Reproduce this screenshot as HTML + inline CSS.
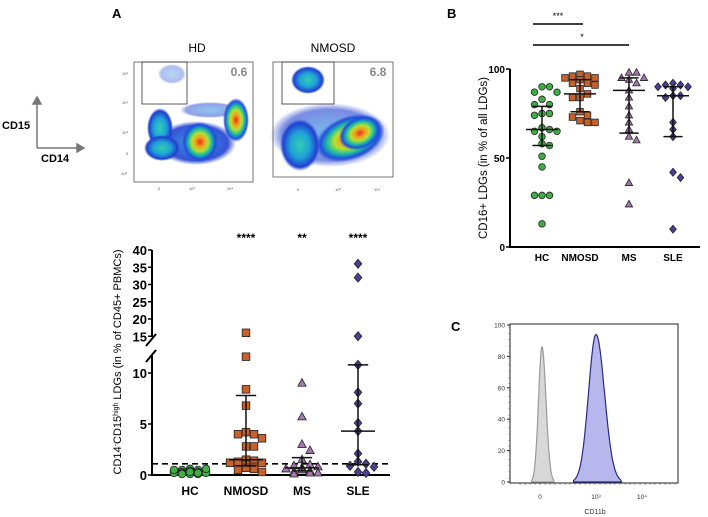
<!DOCTYPE html>
<html><head><meta charset="utf-8"><style>
body{margin:0;background:#fff;width:708px;height:517px;overflow:hidden;font-family:"Liberation Sans",sans-serif}
svg{display:block}
</style></head><body>
<svg id="fig" width="708" height="517" font-family="Liberation Sans, sans-serif">
<defs>
<radialGradient id="heat"><stop offset="0" stop-color="#e0301a"/><stop offset="0.25" stop-color="#f0a020"/><stop offset="0.45" stop-color="#b8e030"/><stop offset="0.65" stop-color="#20c0a0"/><stop offset="0.85" stop-color="#2050e0"/><stop offset="1" stop-color="#2040d0" stop-opacity="0"/></radialGradient>
<radialGradient id="cyan"><stop offset="0" stop-color="#30d0b0"/><stop offset="0.5" stop-color="#20a0d8"/><stop offset="0.85" stop-color="#2040d0"/><stop offset="1" stop-color="#2040d0" stop-opacity="0"/></radialGradient>
<radialGradient id="blue"><stop offset="0" stop-color="#2090e0"/><stop offset="0.8" stop-color="#2040d0"/><stop offset="1" stop-color="#2040d0" stop-opacity="0"/></radialGradient>
</defs>

<text x="112" y="18" font-size="13" font-weight="bold">A</text>
<text x="447" y="18" font-size="13" font-weight="bold">B</text>
<text x="451" y="331" font-size="13" font-weight="bold">C</text>

<g stroke="#777" stroke-width="1.5" fill="#777">
<line x1="37" y1="148" x2="37" y2="102"/><polygon points="33,104 41,104 37,97"/>
<line x1="37" y1="148" x2="78" y2="148"/><polygon points="77,144 77,152 84,148"/>
</g>
<text x="2" y="129" font-size="11" font-weight="bold">CD15</text>
<text x="41" y="162" font-size="11" font-weight="bold">CD14</text>

<g>
<text x="197" y="52" font-size="12" text-anchor="middle">HD</text>
<ellipse cx="196" cy="143" rx="40" ry="22" fill="url(#blue)" opacity="0.9"/>
<ellipse cx="210" cy="110" rx="30" ry="8" fill="url(#blue)" opacity="0.5"/>
<ellipse cx="160" cy="128" rx="13" ry="20" fill="url(#cyan)"/>
<ellipse cx="162" cy="148" rx="18" ry="13" fill="url(#cyan)"/>
<ellipse cx="200" cy="142" rx="18" ry="20" fill="url(#heat)"/>
<ellipse cx="236" cy="120" rx="13" ry="22" fill="url(#heat)"/>
<ellipse cx="172" cy="74" rx="14" ry="10" fill="url(#blue)" opacity="0.35"/>
<rect x="134" y="62" width="119" height="120" fill="none" stroke="#555" stroke-width="0.8"/>
<rect x="142" y="62" width="45" height="42" fill="none" stroke="#333" stroke-width="0.8"/>
<text x="239" y="76" font-size="12" font-weight="bold" fill="#888" text-anchor="middle">0.6</text>
<g font-size="4" fill="#555"><text x="122" y="75">10⁵</text><text x="122" y="104">10⁴</text><text x="122" y="134">10³</text><text x="126" y="155">0</text><text x="120" y="175">-10³</text>
<text x="158" y="190">0</text><text x="189" y="190">10³</text><text x="227" y="190">10⁴</text></g>
</g>

<g>
<text x="333" y="52" font-size="12" text-anchor="middle">NMOSD</text>
<ellipse cx="330" cy="135" rx="60" ry="32" fill="url(#blue)" opacity="0.6"/>
<ellipse cx="300" cy="145" rx="20" ry="26" fill="url(#cyan)"/>
<ellipse cx="350" cy="138" rx="36" ry="22" fill="url(#heat)" transform="rotate(-20 350 138)"/>
<ellipse cx="360" cy="133" rx="22" ry="16" fill="url(#heat)" transform="rotate(-25 360 133)"/>
<ellipse cx="308" cy="80" rx="17" ry="14" fill="url(#cyan)"/>
<rect x="273" y="62" width="120" height="115" fill="none" stroke="#555" stroke-width="0.8"/>
<rect x="282" y="62" width="52" height="42" fill="none" stroke="#333" stroke-width="0.8"/>
<text x="378" y="76" font-size="12" font-weight="bold" fill="#888" text-anchor="middle">6.8</text>
<g font-size="4" fill="#555"><text x="297" y="191">0</text><text x="335" y="191">10³</text><text x="374" y="191">10⁴</text></g>
</g>

<g id="panelA"></g>
<g id="panelB"></g>
<g id="panelC"></g>
</svg>
<script>
// ---- Panel A data ----
const catsA = ["HC","NMOSD","MS","SLE"];
const hcA = [0.6,0.5,0.5,0.4,0.4,0.4,0.3,0.3,0.3,0.3,0.2,0.2,0.2,0.2,0.2,0.1,0.1,0.1,0.6,0.5,0.3,0.2];
const nmosdA = [16,11.6,8.4,6.8,4.2,4.0,4.0,3.6,2.8,2.8,1.5,1.4,1.3,1.2,1.2,1.0,0.8,0.7,0.6,0.5,0.3];
const msA = [9.0,5.7,3.0,2.4,1.5,1.0,0.9,0.8,0.7,0.6,0.5,0.4,0.3,0.2,0.2,0.1];
const sleA = [36,32,15,10.8,8.1,7.0,5.1,4.3,2.1,1.3,1.1,0.9,0.8,0.3,0.2];
const statsA = [[0.3,0.2,0.45],[1.5,0.9,7.8],[0.7,0.4,1.7],[4.3,1.0,10.8]];
const sigA = ["****","**","****"];
const ticksLowA = [0,5,10];
const ticksHighA = [15,20,25,30,35,40];
const refLineA = 1.1;

// ---- Panel B data ----
const catsB = ["HC","NMOSD","MS","SLE"];
const hcB = [90,90,87,87,83,80,80,75,75,74,67,66,65,65,62,58,57,51,45,29,29,29,13];
const nmosdB = [97,96,96,95,95,94,92,92,91,89,86,84,84,76,74,73,71,70,70];
const msB = [98,98,95,95,94,92,88,84,79,74,70,66,62,60,36,24];
const sleB = [92,91,91,90,90,89,85,85,84,70,66,62,42,39,10];
const statsB = [[66,57,79],[86,76,94],[88,64,95],[85,62,90]];
const ticksB = [0,50,100];

// ---- Panel C data ----
const histCTicks = [0,20,40,60,80,100];
const grayPeak = [542,86];
const bluePeak = [1000,94];

const NS="http://www.w3.org/2000/svg";
function el(p,t,a){const e=document.createElementNS(NS,t);for(const k in a)e.setAttribute(k,a[k]);p.appendChild(e);return e;}
const styles=[{fill:"#3cb043",shape:"circle"},{fill:"#c8602a",shape:"square"},{fill:"#a774b4",shape:"tri"},{fill:"#4a3f98",shape:"diamond"}];
function marker(g,shape,x,y,fill,s){
  let m;
  if(shape==="circle") m=el(g,"circle",{cx:x,cy:y,r:s});
  else if(shape==="square") m=el(g,"rect",{x:x-s,y:y-s,width:2*s,height:2*s});
  else if(shape==="tri") m=el(g,"polygon",{points:`${x},${y-s*1.2} ${x-s*1.1},${y+s*0.8} ${x+s*1.1},${y+s*0.8}`});
  else m=el(g,"polygon",{points:`${x},${y-s*1.2} ${x+s},${y} ${x},${y+s*1.2} ${x-s},${y}`});
  m.setAttribute("fill",fill);m.setAttribute("stroke","#222");m.setAttribute("stroke-width","0.8");
  return m;
}
function swarm(vals,yf,cx,step,minGap,maxOff){
  const placed=[];
  const offs=[0];for(let k=1;k<=maxOff;k++){offs.push(k,-k);}
  return vals.map(v=>{
    const y=yf(v);let best=cx,bestC=1e9;
    for(const o of offs){const x=cx+o*step;
      const c=placed.filter(p=>Math.abs(p[0]-x)<step*0.9&&Math.abs(p[1]-y)<minGap).length;
      if(c<bestC){bestC=c;best=x;if(c===0)break;}}
    placed.push([best,y]);return [best,y];
  });
}
function errbar(g,x,ym,yl,yh,w){
  const a={stroke:"#111","stroke-width":1.5};
  el(g,"line",Object.assign({x1:x,y1:yl,x2:x,y2:yh},a));
  el(g,"line",Object.assign({x1:x-w,y1:ym,x2:x+w,y2:ym},a));
  el(g,"line",Object.assign({x1:x-w*0.6,y1:yl,x2:x+w*0.6,y2:yl},a));
  el(g,"line",Object.assign({x1:x-w*0.6,y1:yh,x2:x+w*0.6,y2:yh},a));
}

// ===== Panel A =====
(function(){
const g=document.getElementById("panelA");
const x0=152,xEnd=390;
const xA=i=>190+i*56;
const yA=v=>v<=12.5? 475-v*10.2 : 250+(40-v)*3.45;
el(g,"line",{x1:x0,y1:476,x2:x0,y2:355,stroke:"#000","stroke-width":2});
el(g,"line",{x1:x0,y1:337,x2:x0,y2:250,stroke:"#000","stroke-width":2});
el(g,"line",{x1:x0-6,y1:346,x2:x0+4,y2:334,stroke:"#000","stroke-width":2});
el(g,"line",{x1:x0-6,y1:362,x2:x0+4,y2:350,stroke:"#000","stroke-width":2});
el(g,"line",{x1:x0-1,y1:475,x2:xEnd,y2:475,stroke:"#000","stroke-width":2});
ticksLowA.concat(ticksHighA).forEach(t=>{
  const y=yA(t);
  const tk=el(g,"line",{x1:x0-4,y1:y,x2:x0,y2:y,stroke:"#000","stroke-width":1.5});
  
  const tx=el(g,"text",{x:x0-5,y:y+5,"font-size":13,"font-weight":"bold","text-anchor":"end"});
  tx.textContent=t;
  
});
const yl=el(g,"text",{x:0,y:0,"font-size":11,"text-anchor":"middle",transform:"translate(121,362) rotate(-90)"});
yl.innerHTML='CD14<tspan baseline-shift="super" font-size="7">-</tspan>CD15<tspan baseline-shift="super" font-size="7">high</tspan> LDGs (in % of CD45+ PBMCs)';

const ref=el(g,"line",{x1:x0,y1:yA(refLineA),x2:xEnd,y2:yA(refLineA),stroke:"#000","stroke-width":1.6,"stroke-dasharray":"6,4"});

[hcA,nmosdA,msA,sleA].forEach((vals,i)=>{
  const st=styles[i];
  const pts=swarm(vals,yA,xA(i),8,8,2);
  pts.forEach(p=>{const m=marker(g,st.shape,p[0],p[1],st.fill,3.8);
    });
  if(i>0){const s=statsA[i];errbar(g,xA(i),yA(s[0]),yA(s[1]),yA(s[2]),17);}
  const lb=el(g,"text",{x:xA(i),y:495,"font-size":12,"font-weight":"bold","text-anchor":"middle"});
  lb.textContent=catsA[i];
  
  if(i>0){const sg=el(g,"text",{x:xA(i),y:242,"font-size":12,"font-weight":"bold","text-anchor":"middle"});
    sg.textContent=sigA[i-1];
    }
});
})();

// ===== Panel B =====
(function(){
const g=document.getElementById("panelB");
const x0=510,xEnd=700;
const xB=i=>[542,580,629,673][i];
const yB=v=>247-v*1.78;
el(g,"line",{x1:x0,y1:248,x2:x0,y2:yB(100),stroke:"#000","stroke-width":2});
el(g,"line",{x1:x0-1,y1:247,x2:xEnd,y2:247,stroke:"#000","stroke-width":2});
ticksB.forEach(t=>{
  const y=yB(t);
  const tk=el(g,"line",{x1:x0-4,y1:y,x2:x0,y2:y,stroke:"#000","stroke-width":1.5});
  
  const tx=el(g,"text",{x:x0-5,y:y+4,"font-size":10,"font-weight":"bold","text-anchor":"end"});
  tx.textContent=t;
  
});
const yl=el(g,"text",{x:0,y:0,"font-size":11.5,"text-anchor":"middle",transform:"translate(487,158) rotate(-90)"});
yl.textContent="CD16+ LDGs (in % of all LDGs)";

[hcB,nmosdB,msB,sleB].forEach((vals,i)=>{
  const st=styles[i];
  const pts=swarm(vals,yB,xB(i),7.5,7,2);
  pts.forEach(p=>{const m=marker(g,st.shape,p[0],p[1],st.fill,3.3);
    });
  const s=statsB[i];errbar(g,xB(i),yB(s[0]),yB(s[1]),yB(s[2]),16);
  const lb=el(g,"text",{x:xB(i),y:261,"font-size":10,"font-weight":"bold","text-anchor":"middle"});
  lb.textContent=catsB[i];
  
});
const b1=el(g,"line",{x1:533,y1:24,x2:583,y2:24,stroke:"#000","stroke-width":1.5});

const b2=el(g,"line",{x1:533,y1:45,x2:629,y2:45,stroke:"#000","stroke-width":1.5});

const s1=el(g,"text",{x:558,y:19,"font-size":9,"text-anchor":"middle"});s1.textContent="***";

const s2=el(g,"text",{x:582,y:40,"font-size":9,"text-anchor":"middle"});s2.textContent="*";

})();

// ===== Panel C =====
(function(){
const g=document.getElementById("panelC");
const L=510,R=678,T=324,B=483;
const xC=v=> v<=0? 540+v*0.02 : (v<1000? 540+56*Math.log10(1+v*9/1000) : 596+46*Math.log10(v/1000));
const yC=c=>B-1-c*1.57;
el(g,"rect",{x:L,y:T,width:R-L,height:B-T,fill:"none",stroke:"#222","stroke-width":1});
function peak(cx,h,wl,wr,fill,stroke,name){
  let d=`M${cx-wl*3},${B-1}`;
  for(let t=-3;t<=3;t+=0.1){const w=t<0?wl:wr;const x=cx+t*w;const y=yC(h*Math.exp(-t*t/2));d+=` L${x.toFixed(1)},${y.toFixed(1)}`;}
  d+=` L${cx+wr*3},${B-1} Z`;
  const p=el(g,"path",{d:d,fill:fill,stroke:stroke,"stroke-width":1.2});
  
}
peak(grayPeak[0],grayPeak[1],3.5,4,"#d8d8d8","#999","isotype-histogram");
peak(xC(bluePeak[0]),bluePeak[1],7.5,8.5,"#b7b7ee","#2a2a80","cd11b-histogram");
histCTicks.forEach(t=>{
  const y=yC(t);
  el(g,"line",{x1:L-3,y1:y,x2:L,y2:y,stroke:"#222","stroke-width":1});
  const tx=el(g,"text",{x:L-5,y:y+2.5,"font-size":6.5,fill:"#333","text-anchor":"end"});
  tx.textContent=t;
  
});
for(let y=T+3;y<B;y+=6.3) el(g,"line",{x1:L-1.5,y1:y,x2:L,y2:y,stroke:"#444","stroke-width":0.5});
[[540,"0"],[596,"10³"],[642,"10⁴"]].forEach(a=>{
  const tx=el(g,"text",{x:a[0],y:499,"font-size":6.5,fill:"#333","text-anchor":"middle"});tx.textContent=a[1];
  
});
for(let x=520;x<R;x+=5) el(g,"line",{x1:x,y1:B,x2:x,y2:B+2,stroke:"#444","stroke-width":0.5});
const xl=el(g,"text",{x:595,y:514,"font-size":7,fill:"#333","text-anchor":"middle"});xl.textContent="CD11b";

})();
</script>
</body></html>
